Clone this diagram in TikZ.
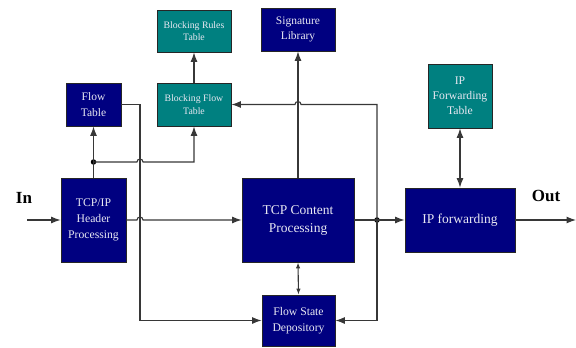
\documentclass[tikz,border=0pt]{standalone}
\usepackage{fontspec}
\setmainfont{Liberation Serif}
\usetikzlibrary{arrows.meta,calc}
\definecolor{navybox}{RGB}{0,0,128}
\definecolor{tealbox}{RGB}{0,128,128}
\definecolor{boxtext}{RGB}{232,232,242}
\definecolor{wire}{RGB}{55,55,55}
\tikzset{
  blk/.style={draw=black!85, line width=0.8pt, fill=navybox, text=boxtext, align=center, inner sep=1pt},
  tbl/.style={blk, fill=tealbox},
  wireline/.style={draw=wire, line width=1.1pt},
  arr/.style={wireline, -{Latex[length=9.5pt,width=7pt]}},
  dbl/.style={wireline, {Latex[length=9.5pt,width=7pt]}-{Latex[length=9.5pt,width=7pt]}},
  dblsmall/.style={wireline, {Latex[length=6pt,width=4.5pt]}-{Latex[length=6pt,width=4.5pt]}},
  junction/.style={circle, fill=black, inner sep=0pt, minimum size=5.5pt},
  lbl/.style={font=\fontsize{17}{20}\selectfont\bfseries}
}
\begin{document}
\begin{tikzpicture}[x=1pt,y=1pt]
\useasboundingbox (0,0) rectangle (576,-348);

% table and processing blocks
\node[tbl, minimum width=74pt, minimum height=42pt, font=\fontsize{9.8}{12.5}\selectfont] (brt) at (194,-31) {Blocking Rules\\Table};
\node[blk, minimum width=74pt, minimum height=43pt, font=\fontsize{11.5}{14.5}\selectfont] (sig) at (298,-29.5) {Signature\\Library};
\node[blk, minimum width=55pt, minimum height=43pt, font=\fontsize{11.5}{15.5}\selectfont] (ft) at (93.5,-104.5) {Flow\\Table};
\node[tbl, minimum width=74pt, minimum height=43pt, font=\fontsize{9.8}{12.5}\selectfont] (bft) at (194,-104.5) {Blocking Flow\\Table};
\node[tbl, minimum width=64pt, minimum height=64pt, font=\fontsize{11.7}{15}\selectfont] (ipft) at (460,-96) {IP\\Forwarding\\Table};
\node[blk, minimum width=65pt, minimum height=84pt, font=\fontsize{11.7}{16}\selectfont] (hdr) at (93.5,-220) {TCP/IP\\Header\\Processing};
\node[blk, minimum width=112pt, minimum height=84pt, font=\fontsize{13.5}{18}\selectfont] (tcp) at (298,-220) {TCP Content\\Processing};
\node[blk, minimum width=73pt, minimum height=51pt, font=\fontsize{11.7}{15.5}\selectfont] (fsd) at (298.5,-320.5) {Flow State\\Depository};
\node[blk, minimum width=110pt, minimum height=64pt, font=\fontsize{13.5}{16}\selectfont] (ipf) at (460,-220) {IP forwarding};

% outer labels
\node[lbl] (inlbl) at (24,-198) {In};
\node[lbl] (outlbl) at (546,-196) {Out};
\coordinate (inpt) at (27,-220);
\coordinate (outpt) at (576,-220);

% bus positions and junctions
\coordinate (xL) at (140,0);
\node[junction] (d1) at (93.5,-162) {};
\node[junction] (d2) at (377,-220) {};

% input and output
\draw[arr] (inpt) -- (hdr.west);
\draw[arr] (ipf.east) -- (outpt);

% header processing to content processing, hopping the flow table bus
\draw[arr] (hdr.east) -- ($(hdr.east -| xL)+(-3,0)$) arc[start angle=180,end angle=0,radius=3] -- (tcp.west);

% flow table bus down to the state depository
\draw[arr] (ft.east) -| (fsd.west -| xL) -- (fsd.west);

% header processing up to the flow tables
\draw[wireline] (hdr.north) -- (d1.center);
\draw[arr] (d1.center) -- (ft.south);
\draw[arr] (d1.center) -- ($(d1 -| xL)+(-3,0)$) arc[start angle=180,end angle=0,radius=3] -- (d1 -| bft.south) -- (bft.south);
\draw[arr] (bft.north) -- (brt.south);

% content processing links
\draw[arr] (tcp.north) -- (sig.south);
\draw[dblsmall] (tcp.south) -- (fsd.north);
\draw[wireline] (tcp.east) -- (d2.center);
\draw[arr] (d2.center) -- (ipf.west);
\draw[arr] (d2.center) -- (d2 |- bft.east) -- ($(bft.east -| tcp.north)+(3,0)$) arc[start angle=0,end angle=180,radius=3] -- (bft.east);
\draw[arr] (d2.center) -- (d2 |- fsd.east) -- (fsd.east);

% forwarding table lookup
\draw[dbl] (ipft.south) -- (ipf.north);
\end{tikzpicture}
\end{document}
